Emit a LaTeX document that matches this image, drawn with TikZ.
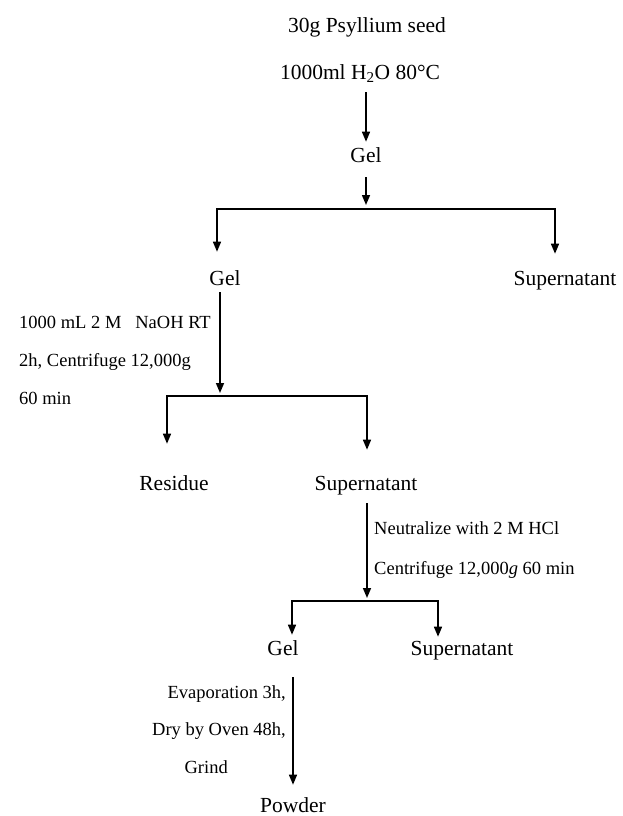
\documentclass[tikz,border=0pt]{standalone}
\usepackage{fontspec}
\setmainfont{Liberation Serif}
\usetikzlibrary{arrows.meta}

\begin{document}
\begin{tikzpicture}[x=1pt, y=-1pt,
  stage/.style={inner sep=0pt, font=\fontsize{21.5}{24}\selectfont, text height=14.2pt, text depth=0pt},
  note/.style={inner sep=0pt, align=left, font=\fontsize{18.5}{38}\selectfont, text height=12.4pt, text depth=0pt},
  line/.style={draw=black, line width=1.5pt, -{Triangle[length=10pt,width=8pt]}},
  bar/.style={draw=black, line width=1.5pt, line cap=rect}
]
  \useasboundingbox (0,0) rectangle (622,816);

  % Start
  \node [stage] (seed) at (367,25) {30g Psyllium seed};
  \node [stage] (water) at (360,72) {1000ml H\textsubscript{2}O 80°C};
  \node [stage] (gel1) at (366,155) {Gel};
  \draw [line, shorten <=13pt, shorten >=6pt] (gel1 |- water.south) -- (gel1.north);

  % First split
  \coordinate (b1) at (366,209);
  \coordinate (b1l) at (217,209);
  \coordinate (b1r) at (555,209);
  \draw [line, shorten <=15pt, shorten >=4pt] (gel1.south) -- (b1);
  \draw [bar] (b1l) -- (b1r);
  \node [stage] (gel2) at (225,278) {Gel};
  \node [stage] (sup1) at (565,278) {Supernatant};
  \draw [line, shorten >=19pt] (b1l) -- (b1l |- gel2.north);
  \draw [line, shorten >=17pt] (b1r) -- (b1r |- sup1.north);

  % Alkali extraction (node sits on its last line)
  \node [note, anchor=west] (naoh) at (19,398) {1000 mL 2 M\enspace\ NaOH RT\\2h, Centrifuge 12,000g\\60 min};
  \coordinate (b2) at (220,396);
  \coordinate (b2l) at (167,396);
  \coordinate (b2r) at (367,396);
  \draw [line, shorten <=7pt, shorten >=3pt] (b2 |- gel2.south) -- (b2);
  \draw [bar] (b2l) -- (b2r);
  \node [stage] (res) at (174,483) {Residue};
  \node [stage] (sup2) at (366,483) {Supernatant};
  \draw [line, shorten >=32pt] (b2l) -- (b2l |- res.north);
  \draw [line, shorten >=26pt] (b2r) -- (b2r |- sup2.north);

  % Neutralization
  \node [note, anchor=west, font=\fontsize{18.5}{40}\selectfont] (hcl) at (374,568) {Neutralize with 2 M HCl\\Centrifuge 12,000\textit{g} 60 min};
  \coordinate (b3) at (367,601);
  \coordinate (b3l) at (292,601);
  \coordinate (b3r) at (438,601);
  \draw [line, shorten <=13pt, shorten >=3pt] (b3 |- sup2.south) -- (b3);
  \draw [bar] (b3l) -- (b3r);
  \node [stage] (gel4) at (283,648) {Gel};
  \node [stage] (sup3) at (462,648) {Supernatant};
  \draw [line, shorten >=6pt] (b3l) -- (b3l |- gel4.north);
  \draw [line, shorten >=4pt] (b3r) -- (b3r |- sup3.north);

  % Drying
  \node [stage] (powder) at (293,805) {Powder};
  \node [note, anchor=east, align=right, font=\fontsize{18.5}{37.5}\selectfont] (dry) at (286,767) {Evaporation 3h,\\Dry by Oven 48h,\\Grind\rule{58pt}{0pt}};
  \draw [line, shorten <=22pt, shorten >=13pt] (powder |- gel4.south) -- (powder.north);

\end{tikzpicture}
\end{document}
